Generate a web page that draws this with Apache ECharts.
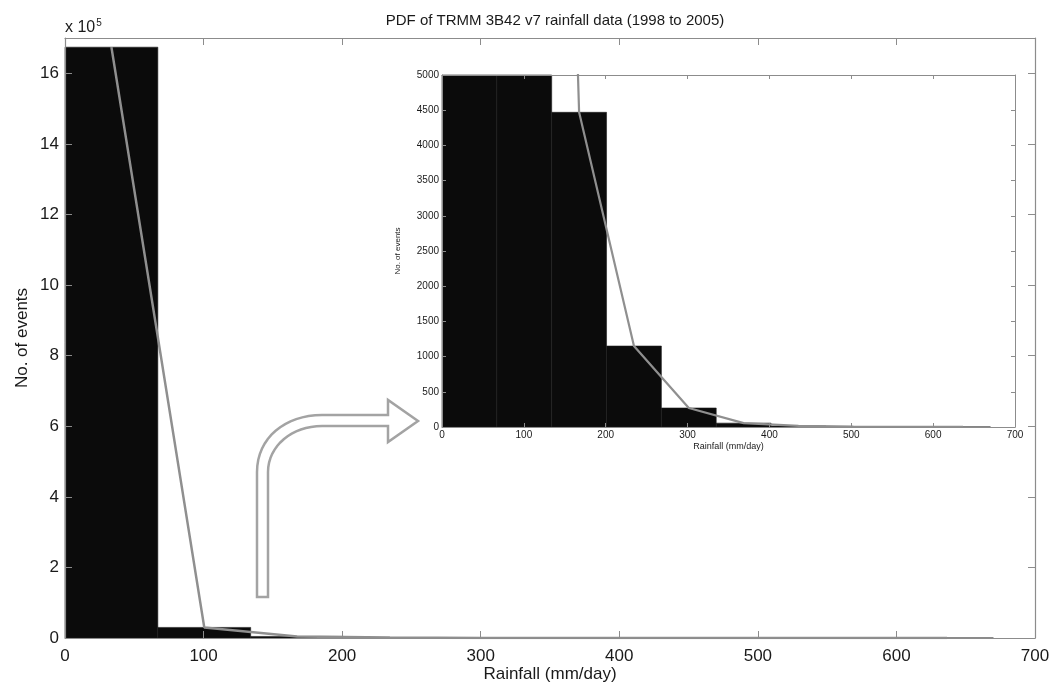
<!DOCTYPE html>
<html><head><meta charset="utf-8">
<script src="https://cdn.jsdelivr.net/npm/echarts@6/dist/echarts.min.js"></script>
<style>html,body{margin:0;padding:0;background:#fff}#c{width:1058px;height:686px}</style>
</head><body><div id="c"></div>
<script>
// ---- data ----
const titleText = 'PDF of TRMM 3B42 v7 rainfall data (1998 to 2005)';
const binEdges = [0, 67, 134, 201, 268, 335, 402, 469, 536, 603, 670];
const counts = [1674000, 30000, 4470, 1150, 270, 55, 15, 5, 2, 1];
const xTicks = [0, 100, 200, 300, 400, 500, 600, 700];
const mainYTicks = [0, 2, 4, 6, 8, 10, 12, 14, 16]; // x 10^5
const insetYTicks = [0, 500, 1000, 1500, 2000, 2500, 3000, 3500, 4000, 4500, 5000];

const barData = counts.map((c, i) => [binEdges[i], binEdges[i + 1], c]);
const lineData = counts.map((c, i) => [(binEdges[i] + binEdges[i + 1]) / 2, c]);

const FONT = "'Liberation Sans Narrow', 'Liberation Sans', Arial, sans-serif";
const FONT2 = "'Liberation Sans', Arial, sans-serif";
const AX = '#8c8c8c';
const TXT = '#1a1a1a';

function renderBar(params, api) {
  const p0 = api.coord([api.value(0), api.value(2)]);
  const p1 = api.coord([api.value(1), 0]);
  const cs = params.coordSys;
  const r = echarts.graphic.clipRectByRect(
    {x: p0[0], y: p0[1], width: p1[0] - p0[0], height: p1[1] - p0[1]},
    {x: cs.x, y: cs.y, width: cs.width, height: cs.height});
  return r && {type: 'rect', shape: r, style: {fill: '#0b0b0b', stroke: '#1e1e1e', lineWidth: 0.6}};
}

function xAx(gi, pos, showLabel, fs) {
  return {
    type: 'value', gridIndex: gi, position: pos, min: 0, max: 700, interval: 100,
    axisLine: {show: true, onZero: false, lineStyle: {color: AX, width: 1.2}},
    axisTick: {show: true, inside: true, length: gi === 0 ? 7 : 4, lineStyle: {color: AX}},
    axisLabel: {show: showLabel, color: TXT, fontSize: fs, fontFamily: gi === 0 ? FONT : FONT2, margin: gi === 0 ? 10 : 3,
      formatter: v => (xTicks.indexOf(v) >= 0 ? String(v) : '')},
    splitLine: {show: false}, z: 8, nameMoveOverlap: false
  };
}
function yAx(gi, pos, max, interval, showLabel, fs, fmt) {
  return {
    type: 'value', gridIndex: gi, position: pos, min: 0, max: max, interval: interval,
    axisLine: {show: true, onZero: false, lineStyle: {color: AX, width: gi === 0 ? 1.2 : 1}},
    axisTick: {show: true, inside: true, length: gi === 0 ? 7 : 4, lineStyle: {color: AX}},
    axisLabel: {show: showLabel, color: TXT, fontSize: fs, fontFamily: gi === 0 ? FONT : FONT2,
      margin: gi === 0 ? 6 : 3, formatter: fmt},
    splitLine: {show: false}, z: 8, nameMoveOverlap: false
  };
}

// decorative bent arrow outline (pixel layout, not data)
function bez(p0, p1, p2, p3, n) {
  const out = [];
  for (let i = 1; i <= n; i++) {
    const t = i / n, u = 1 - t;
    out.push([
      u*u*u*p0[0] + 3*u*u*t*p1[0] + 3*u*t*t*p2[0] + t*t*t*p3[0],
      u*u*u*p0[1] + 3*u*u*t*p1[1] + 3*u*t*t*p2[1] + t*t*t*p3[1]
    ]);
  }
  return out;
}
const arrowPts = [[257, 597], [257, 472]]
  .concat(bez([257, 472], [257, 438], [285, 415], [322, 415], 16))
  .concat([[388, 415], [388, 400], [418, 421], [388, 442], [388, 426], [322, 426]])
  .concat(bez([322, 426], [292, 426], [268, 446], [268, 472], 16))
  .concat([[268, 597]]);

const chart = echarts.init(document.getElementById('c'));
chart.setOption({
  animation: false,
  backgroundColor: '#fff',
  title: {
    text: titleText, left: 550, textAlign: 'center', top: 8,
    textStyle: {fontFamily: FONT2, fontSize: 15, fontWeight: 'normal', color: TXT}
  },
  grid: [
    {left: 65, right: 23, top: 38, bottom: 48, show: false, containLabel: false, outerBoundsMode: 'none'},
    {left: 442, right: 43, top: 75, bottom: 259, show: true, backgroundColor: '#fff', borderWidth: 0,
      containLabel: false, outerBoundsMode: 'none'}
  ],
  xAxis: [
    Object.assign(xAx(0, 'bottom', true, 17), {
      name: 'Rainfall (mm/day)', nameLocation: 'middle', nameGap: 28,
      nameTextStyle: {fontFamily: FONT, fontSize: 17, color: TXT}
    }),
    xAx(0, 'top', false, 17),
    Object.assign(xAx(1, 'bottom', true, 10), {
      name: 'Rainfall (mm/day)', nameLocation: 'middle', nameGap: 15,
      nameTextStyle: {fontFamily: FONT2, fontSize: 9, color: TXT}
    }),
    xAx(1, 'top', false, 10)
  ],
  yAxis: [
    Object.assign(yAx(0, 'left', 1700000, 200000, true, 17,
      v => (mainYTicks.indexOf(v / 1e5) >= 0 ? String(v / 1e5) : '')), {
      name: 'No. of events', nameLocation: 'middle', nameGap: 34, nameRotate: 90,
      nameTextStyle: {fontFamily: FONT, fontSize: 17, color: TXT}
    }),
    yAx(0, 'right', 1700000, 200000, false, 17),
    Object.assign(yAx(1, 'left', 5000, 500, true, 10,
      v => (insetYTicks.indexOf(v) >= 0 ? String(v) : '')), {
      name: 'No. of events', nameLocation: 'middle', nameGap: 40, nameRotate: 90,
      nameTextStyle: {fontFamily: FONT2, fontSize: 8, color: TXT}
    }),
    yAx(1, 'right', 5000, 500, false, 10)
  ],
  series: [
    {type: 'custom', xAxisIndex: 0, yAxisIndex: 0, renderItem: renderBar, data: barData,
      encode: {x: [0, 1], y: 2}, z: 2},
    {type: 'line', xAxisIndex: 0, yAxisIndex: 0, data: lineData, symbol: 'none',
      lineStyle: {color: '#8f8f8f', width: 2.5}, z: 4},
    {type: 'custom', xAxisIndex: 2, yAxisIndex: 2, renderItem: renderBar, data: barData,
      encode: {x: [0, 1], y: 2}, z: 5},
    {type: 'line', xAxisIndex: 2, yAxisIndex: 2, data: lineData, symbol: 'none', clip: true,
      lineStyle: {color: '#8f8f8f', width: 2.2}, z: 6}
  ],
  graphic: [
    {type: 'text', left: 65, top: 18, z: 10,
      style: {text: 'x 10{s|5}', fontFamily: FONT2, fontSize: 16, fill: TXT,
        rich: {s: {fontSize: 10, verticalAlign: 'top', padding: [0, 0, 9, 1], fontFamily: FONT2}}}},
    {type: 'polygon', z: 10, shape: {points: arrowPts},
      style: {fill: '#fff', stroke: '#a3a3a3', lineWidth: 2.5}}
  ]
});
</script></body></html>
